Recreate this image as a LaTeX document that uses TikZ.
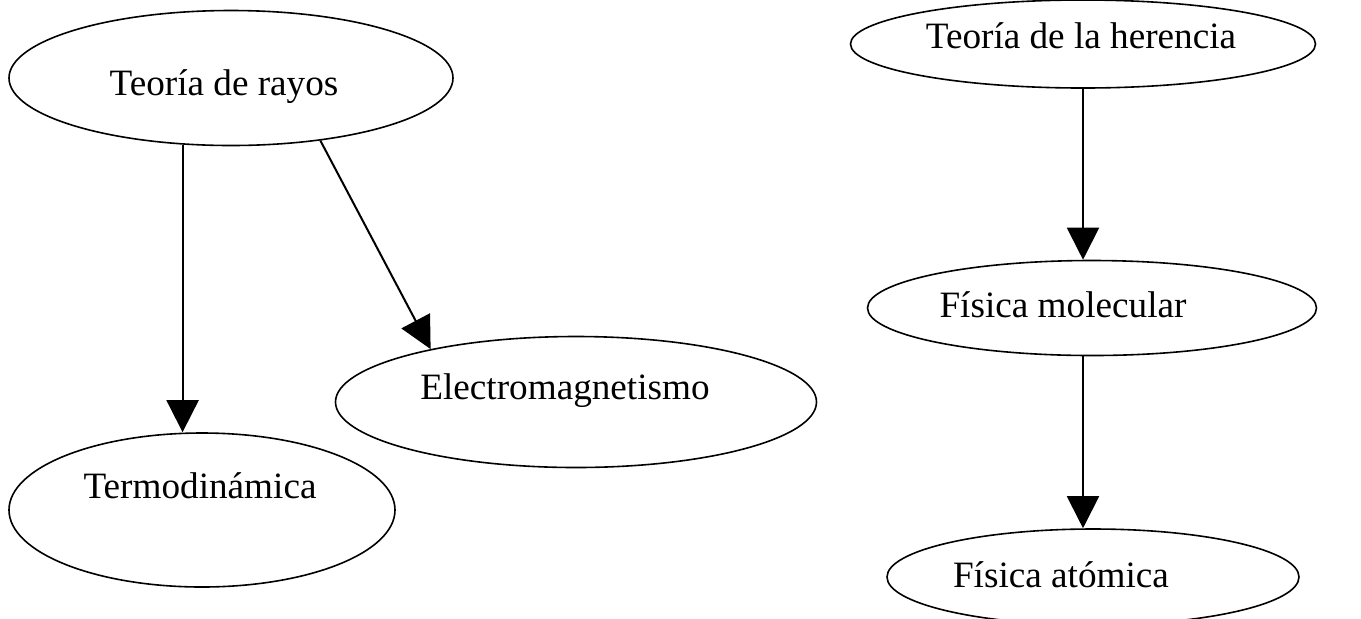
\documentclass[tikz,border=0pt]{standalone}
\usepackage{fontspec}
\setmainfont{Liberation Serif}
\usetikzlibrary{shapes.geometric,arrows.meta}
\tikzset{
  bubble/.style={draw, ellipse, line width=0.8pt, inner sep=0pt},
  lbl/.style={anchor=base, inner sep=0pt, font=\fontsize{18.6}{21}\selectfont},
  arr/.style={line width=1pt, -{Triangle[length=16pt,width=16pt]}}
}
\begin{document}
\begin{tikzpicture}[x=0.5pt,y=-0.5pt]
\clip (0,0) rectangle (1361,618);
\useasboundingbox (0,0) rectangle (1361,618);
% left group
\node[bubble, minimum width=222pt, minimum height=67.5pt] (rayos) at (231,78) {};
\node[bubble, minimum width=193pt, minimum height=77pt] (termo) at (202,510) {};
\node[bubble, minimum width=240.5pt, minimum height=65.5pt] (electro) at (576,402) {};
\node[lbl] (trayos) at (224,95) {Teoría de rayos};
\node[lbl] (ttermo) at (200,498) {Termodinámica};
\node[lbl] (telectro) at (565,399) {Electromagnetismo};
\draw[arr] (rayos.234) -- (rayos.234 |- termo.north);
\draw[arr] (rayos.325) -- (electro.160);
% right group
\node[bubble, minimum width=232.5pt, minimum height=44pt] (herencia) at (1083,44) {};
\node[bubble, minimum width=224.5pt, minimum height=47.5pt] (molecular) at (1092,308) {};
\node[bubble, minimum width=206pt, minimum height=48pt] (atomica) at (1093,577) {};
\node[lbl] (therencia) at (1081,48) {Teoría de la herencia};
\node[lbl] (tmolecular) at (1063,317) {Física molecular};
\node[lbl] (tatomica) at (1061,587) {Física atómica};
\draw[arr] (herencia.south) -- (herencia.south |- molecular.north);
\draw[arr] (herencia.south |- molecular.south) -- (herencia.south |- atomica.north);
\end{tikzpicture}
\end{document}
